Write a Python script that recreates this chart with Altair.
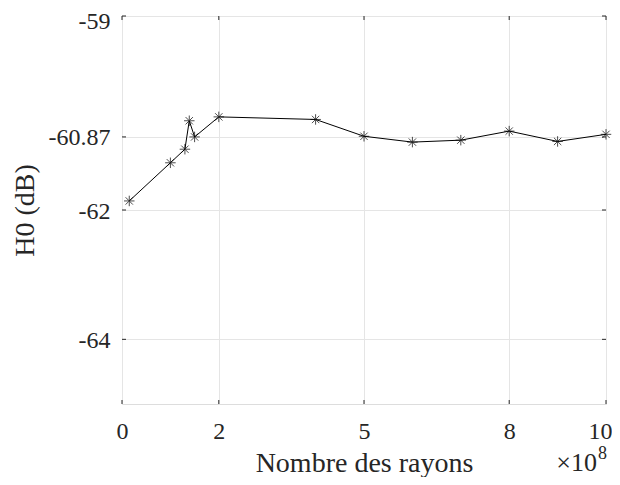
import altair as alt
import pandas as pd

# Data
rays = [0.15, 1.0, 1.30, 1.39, 1.50, 2.0, 4.0, 5.0, 6.0, 7.0, 8.0, 9.0, 10.0]
h0 = [-61.86, -61.27, -61.06, -60.62, -60.87, -60.56, -60.60, -60.86, -60.95, -60.92, -60.78, -60.94, -60.83]
x_ticks = [0, 2, 5, 8, 10]
y_ticks = [-59, -60.87, -62, -64]

W, H = 484, 388
FONT = "Liberation Serif"
AX = "#262626"

df = pd.DataFrame({"x": rays, "y": h0})
dfx = pd.DataFrame({"t": x_ticks})
dfy = pd.DataFrame({"t": y_ticks})

xs = alt.Scale(domain=[0, 10], nice=False, zero=False)
ys = alt.Scale(domain=[-65, -59], nice=False, zero=False)

asterisk = "M-1,0L1,0M0,-1L0,1M-0.7,-0.7L0.7,0.7M-0.7,0.7L0.7,-0.7"

base = alt.Chart(df)

line = base.mark_line(color="black", strokeWidth=1).encode(
    x=alt.X("x:Q", scale=xs,
            axis=alt.Axis(values=x_ticks, title="Nombre des rayons", grid=True,
                          gridColor="#e5e5e5", tickSize=0, domain=False,
                          labelFont=FONT, labelFontSize=24, labelColor=AX,
                          labelBaseline="alphabetic", labelPadding=34,
                          labelFlush=True, labelFlushOffset=6,
                          titleFont=FONT, titleFontSize=28, titleFontWeight="normal",
                          titleColor=AX, titleX=W / 2, titleY=67,
                          titleAlign="center", titleBaseline="alphabetic")),
    y=alt.Y("y:Q", scale=ys,
            axis=alt.Axis(values=y_ticks, title="H0 (dB)", grid=True,
                          gridColor="#e5e5e5", tickSize=0, domain=False,
                          labelExpr="'' + datum.value",
                          labelFont=FONT, labelFontSize=24, labelColor=AX,
                          labelPadding=12, labelFlush=5, labelFlushOffset=8,
                          labelOffset=1,
                          titleFont=FONT, titleFontSize=28, titleFontWeight="normal",
                          titleColor=AX, titleX=-89, titleY=H / 2,
                          titleAlign="center", titleBaseline="alphabetic")),
)

pts = base.mark_point(shape=asterisk, size=110, color="black", strokeWidth=1, filled=False).encode(
    x=alt.X("x:Q", scale=xs), y=alt.Y("y:Q", scale=ys)
)

tick_bottom = alt.Chart(dfx).mark_rule(color=AX, strokeWidth=1).encode(
    x=alt.X("t:Q", scale=xs), y=alt.value(H), y2=alt.value(H - 4))
tick_top = alt.Chart(dfx).mark_rule(color=AX, strokeWidth=1).encode(
    x=alt.X("t:Q", scale=xs), y=alt.value(0), y2=alt.value(4))
tick_left = alt.Chart(dfy).mark_rule(color=AX, strokeWidth=1).encode(
    y=alt.Y("t:Q", scale=ys), x=alt.value(0), x2=alt.value(4))
tick_right = alt.Chart(dfy).mark_rule(color=AX, strokeWidth=1).encode(
    y=alt.Y("t:Q", scale=ys), x=alt.value(W), x2=alt.value(W - 4))

exp_base = alt.Chart(pd.DataFrame({"s": ["×10"]})).mark_text(
    font=FONT, fontSize=26, color=AX, align="right", baseline="alphabetic"
).encode(text="s:N", x=alt.value(475), y=alt.value(455))
exp_sup = alt.Chart(pd.DataFrame({"s": ["8"]})).mark_text(
    font=FONT, fontSize=18, color=AX, align="left", baseline="alphabetic"
).encode(text="s:N", x=alt.value(476), y=alt.value(443))

chart = alt.layer(line, pts, tick_bottom, tick_top, tick_left, tick_right, exp_base, exp_sup).properties(
    width=W, height=H,
    autosize=alt.AutoSizeParams(type="none"),
    padding={"left": 114, "top": 8, "right": 6, "bottom": 73},
).configure_view(stroke=AX, strokeWidth=1).configure(background="white")

chart.save("out.html", embed_options={"renderer": "svg", "actions": False})
